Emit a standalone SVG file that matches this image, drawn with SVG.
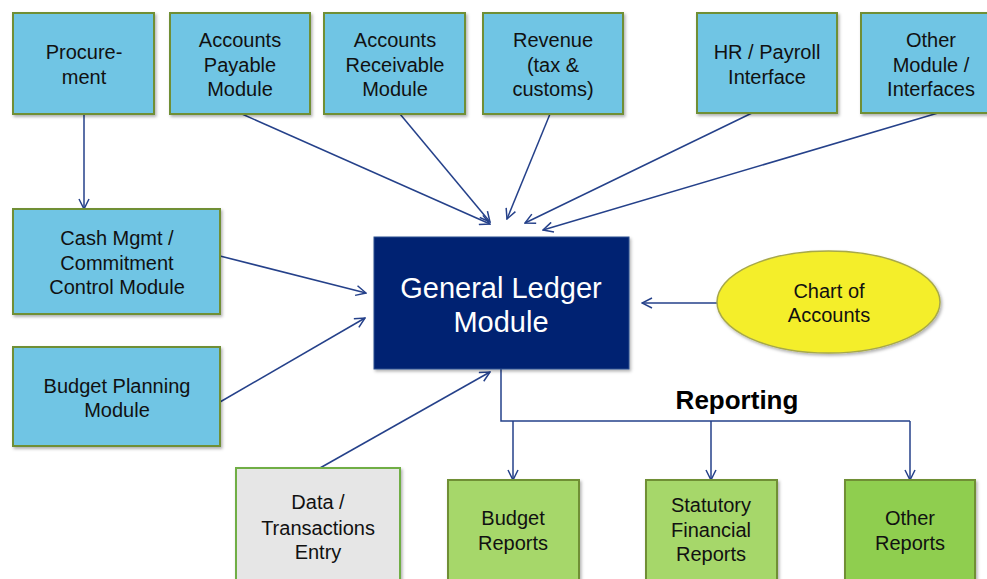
<svg xmlns="http://www.w3.org/2000/svg" width="987" height="579" viewBox="0 0 987 579">
<style>
.box{fill:#6fc5e4;stroke:#6f8f35;stroke-width:2}
.gray{fill:#e6e6e6;stroke:#6fae45;stroke-width:2}
.green{fill:#a6d76a;stroke:#6f8f35;stroke-width:2}
.green2{fill:#8fce4f;stroke:#6f8f35;stroke-width:2}
.gl{fill:#002472;stroke:#2d4f8f;stroke-width:1}
.ell{fill:#f4ee2c;stroke:#a7a84a;stroke-width:1.5}
.t{font-family:"Liberation Sans",Arial,sans-serif;font-size:20px;fill:#111;text-anchor:middle}
.n{font-family:"Liberation Sans",Arial,sans-serif;font-size:20px;fill:#111;text-anchor:middle}
.w{font-family:"Liberation Sans",Arial,sans-serif;font-size:29px;fill:#fff;text-anchor:middle}
.b{font-family:"Liberation Sans",Arial,sans-serif;font-size:26px;font-weight:bold;fill:#000;text-anchor:middle}
.c{fill:none;stroke:#25418a;stroke-width:1.5;marker-end:url(#ah)}
.c0{fill:none;stroke:#25418a;stroke-width:1.5}
</style>
<defs>
<marker id="ah" viewBox="0 0 12 12" refX="11" refY="6" markerWidth="12" markerHeight="12" markerUnits="userSpaceOnUse" orient="auto">
<path d="M1,1 L11,6 L1,11" fill="none" stroke="#25418a" stroke-width="1.5"/>
</marker>
<filter id="sh" x="-10%" y="-10%" width="130%" height="130%">
<feDropShadow dx="1.5" dy="2" stdDeviation="1.5" flood-color="#000" flood-opacity="0.3"/>
</filter>
</defs>
<rect width="987" height="579" fill="#fff"/>

<g id="connectors">
<path class="c" d="M84,114 L84,209"/>
<path class="c" d="M242,114 L490,224"/>
<path class="c" d="M400,114 L490,222"/>
<path class="c" d="M550,114 L507,219"/>
<path class="c" d="M752,113 L525,223"/>
<path class="c" d="M938,113 L543,230"/>
<path class="c" d="M220,256 L366,293"/>
<path class="c" d="M220,402 L365,318"/>
<path class="c" d="M320,468 L490,372"/>
<path class="c" d="M717,303 L642,303"/>
<path class="c0" d="M501,369 L501,421 L910,421"/>
<path class="c" d="M513,421 L513,480"/>
<path class="c" d="M711,421 L711,480"/>
<path class="c" d="M910,421 L910,480"/>
</g>

<g id="procurement"><rect class="box" x="13" y="13" width="141" height="101" filter="url(#sh)"/>
<text class="t" x="84" y="59">Procure-</text><text class="t" x="84" y="84">ment</text></g>
<g id="ap"><rect class="box" x="170" y="13" width="140" height="101" filter="url(#sh)"/>
<text class="t" x="240" y="47">Accounts</text><text class="t" x="240" y="72">Payable</text><text class="t" x="240" y="96">Module</text></g>
<g id="ar"><rect class="box" x="324" y="13" width="141" height="101" filter="url(#sh)"/>
<text class="t" x="395" y="47">Accounts</text><text class="t" x="395" y="72">Receivable</text><text class="t" x="395" y="96">Module</text></g>
<g id="revenue"><rect class="box" x="483" y="13" width="140" height="101" filter="url(#sh)"/>
<text class="t" x="553" y="47">Revenue</text><text class="t" x="553" y="72">(tax &amp;</text><text class="t" x="553" y="96">customs)</text></g>
<g id="hr"><rect class="box" x="697" y="13" width="140" height="100" filter="url(#sh)"/>
<text class="t" x="767" y="59">HR / Payroll</text><text class="t" x="767" y="84">Interface</text></g>
<g id="other-module"><rect class="box" x="861" y="13" width="140" height="100" filter="url(#sh)"/>
<text class="t" x="931" y="47">Other</text><text class="t" x="931" y="72">Module /</text><text class="t" x="931" y="96">Interfaces</text></g>
<g id="cash"><rect class="box" x="13" y="209" width="207" height="105" filter="url(#sh)"/>
<text class="t" x="117" y="245">Cash Mgmt /</text><text class="t" x="117" y="270">Commitment</text><text class="t" x="117" y="294">Control Module</text></g>
<g id="budget-planning"><rect class="box" x="13" y="347" width="207" height="99" filter="url(#sh)"/>
<text class="t" x="117" y="393">Budget Planning</text><text class="t" x="117" y="417">Module</text></g>
<g id="gl"><rect class="gl" x="374" y="237" width="255" height="132" filter="url(#sh)"/>
<text class="w" x="501" y="298">General Ledger</text><text class="w" x="501" y="332">Module</text></g>
<g id="coa"><ellipse class="ell" cx="828.5" cy="302" rx="111.5" ry="51" filter="url(#sh)"/>
<text class="t" x="829" y="298">Chart of</text><text class="t" x="829" y="322">Accounts</text></g>
<g id="data-entry"><rect class="gray" x="236" y="468" width="164" height="120" filter="url(#sh)"/>
<text class="n" x="318" y="509">Data /</text><text class="n" x="318" y="535">Transactions</text><text class="n" x="318" y="559">Entry</text></g>
<g id="budget-reports"><rect class="green" x="448" y="480" width="131" height="110" filter="url(#sh)"/>
<text class="n" x="513" y="525">Budget</text><text class="n" x="513" y="550">Reports</text></g>
<g id="statutory"><rect class="green" x="646" y="480" width="131" height="110" filter="url(#sh)"/>
<text class="n" x="711" y="512">Statutory</text><text class="n" x="711" y="537">Financial</text><text class="n" x="711" y="561">Reports</text></g>
<g id="other-reports"><rect class="green2" x="845" y="480" width="130" height="110" filter="url(#sh)"/>
<text class="n" x="910" y="525">Other</text><text class="n" x="910" y="550">Reports</text></g>
<g id="reporting-label"><text class="b" x="737" y="409">Reporting</text></g>
</svg>
